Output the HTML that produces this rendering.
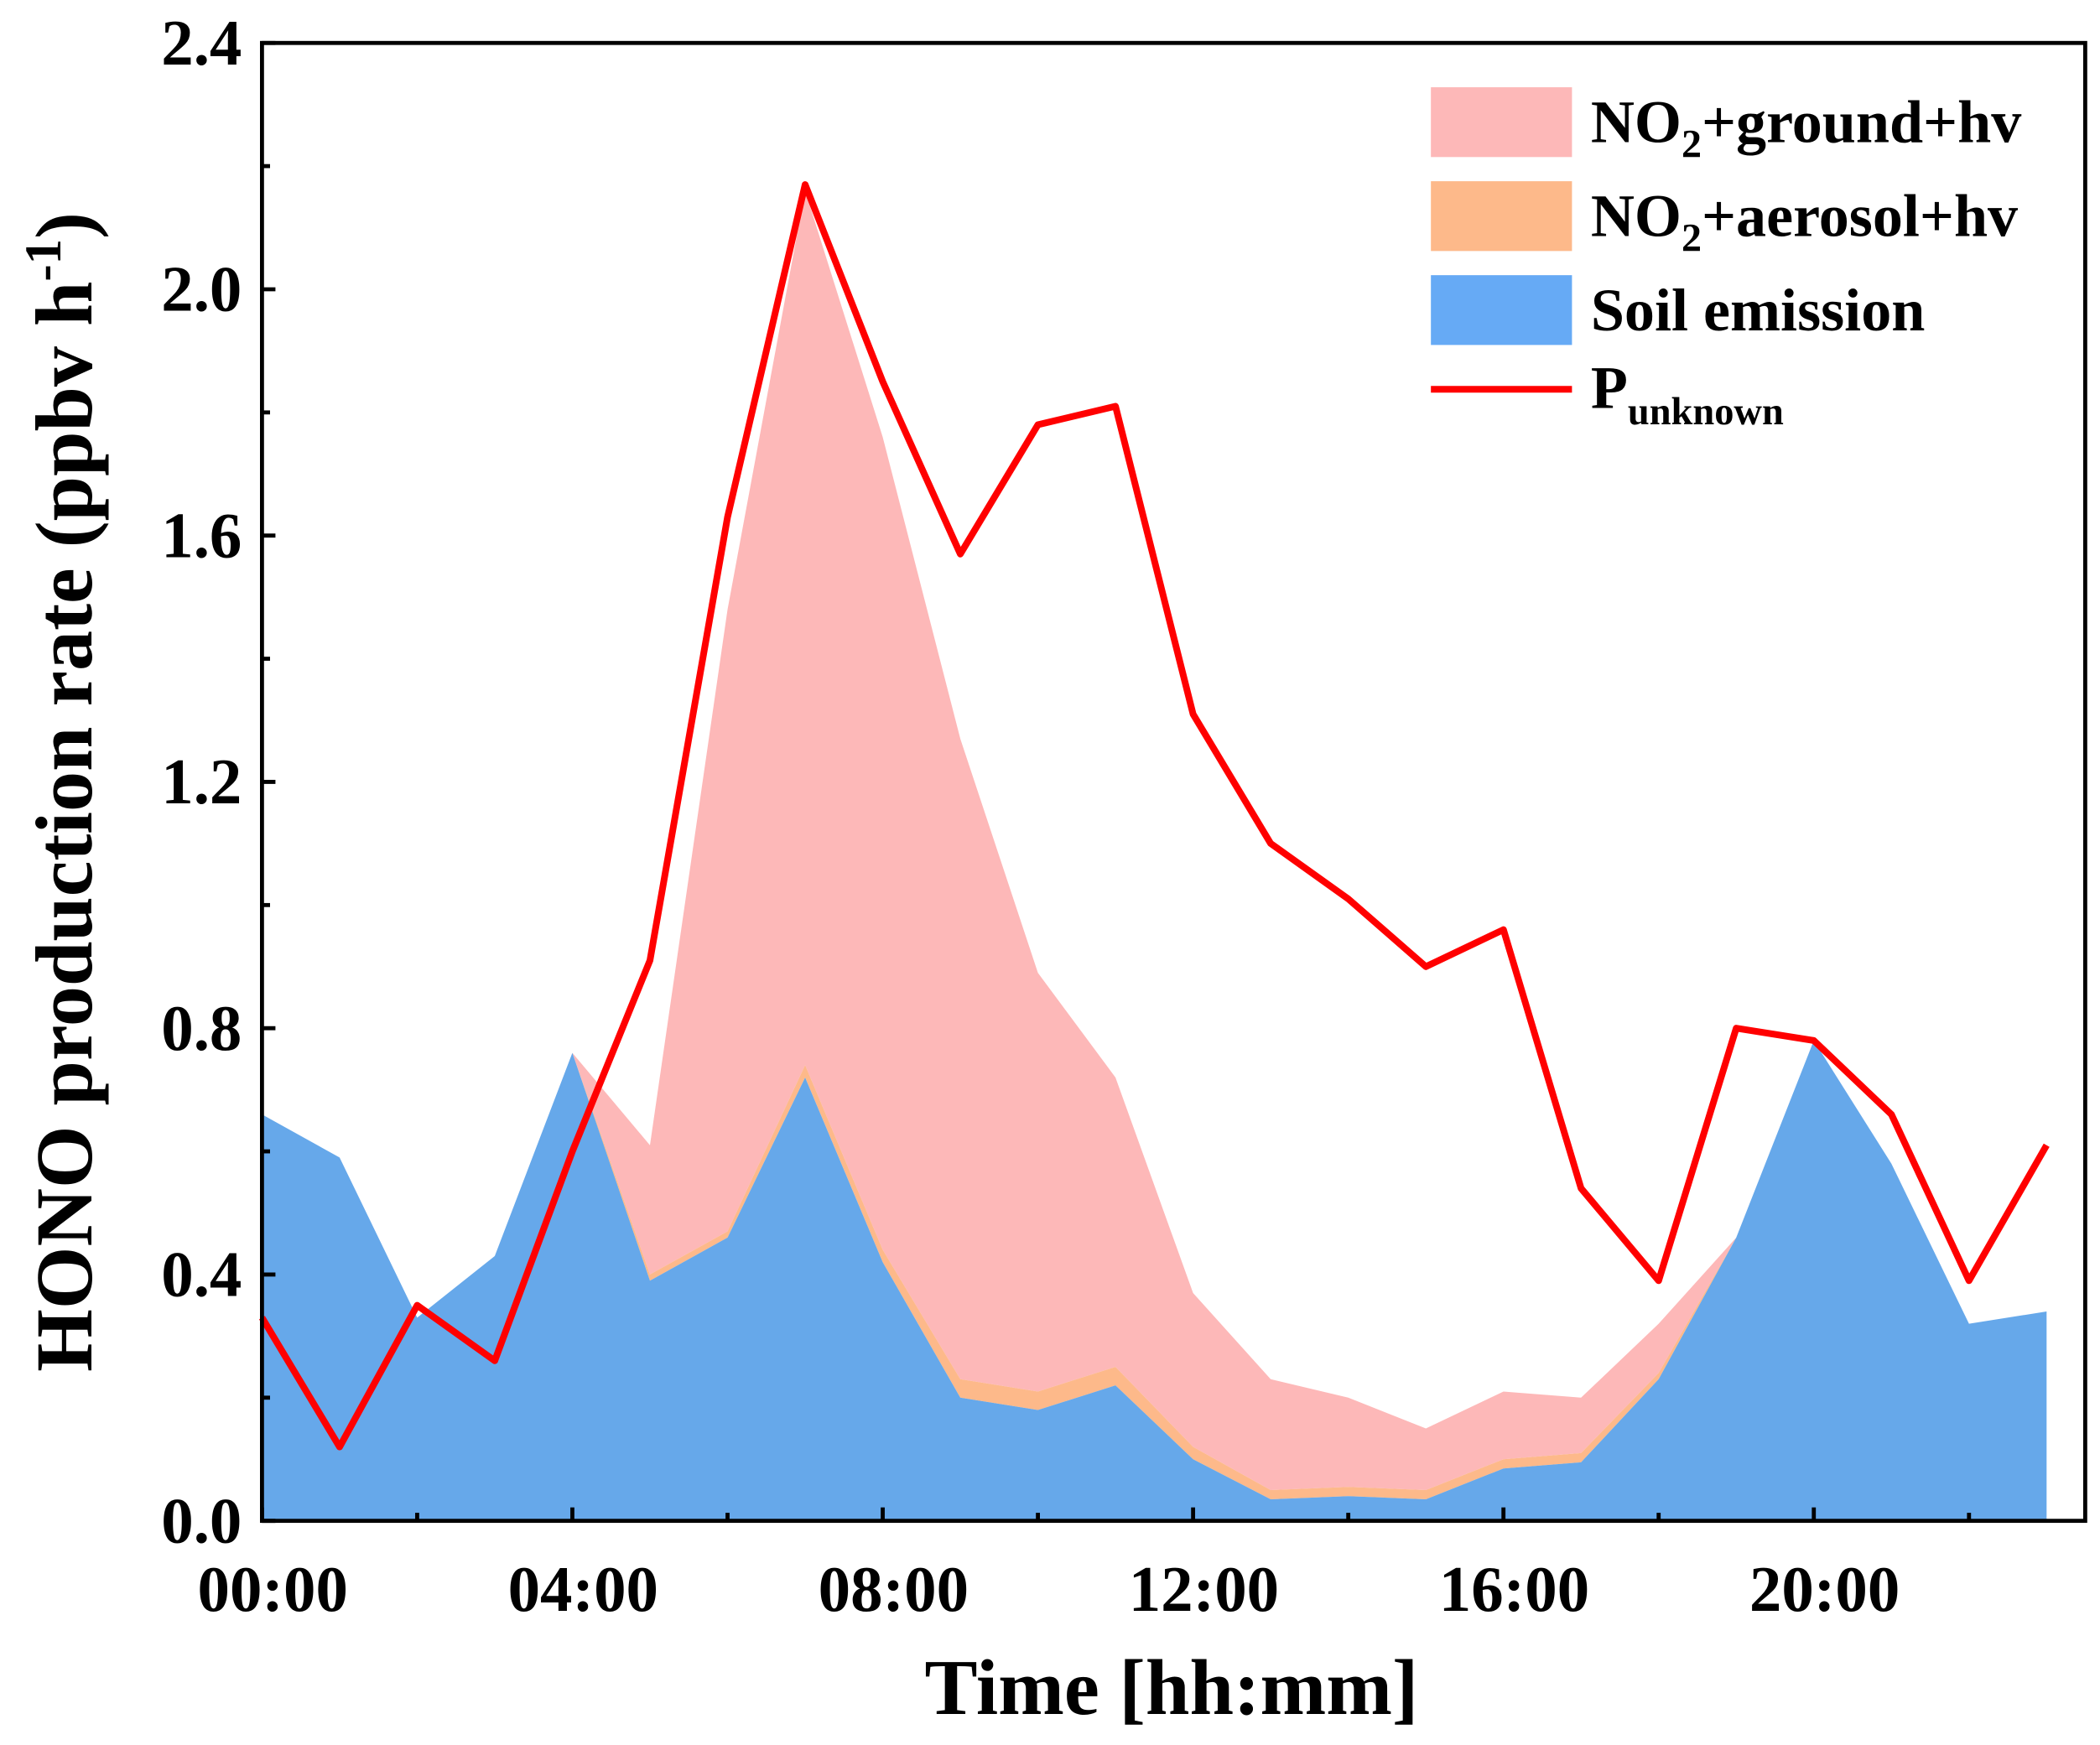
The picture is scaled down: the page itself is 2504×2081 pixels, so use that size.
<!DOCTYPE html>
<html><head><meta charset="utf-8"><style>
html,body{margin:0;padding:0;background:#fff;}
svg{display:block;}
text{font-family:"Liberation Serif",serif;font-weight:bold;fill:#000;}
</style></head><body>
<svg id="chart" width="2504" height="2081" viewBox="0 0 1563 1300" preserveAspectRatio="none" xmlns="http://www.w3.org/2000/svg">
<g id="areas"></g>
<g id="line"></g>
<rect x="195" y="32" width="1357" height="1101" fill="none" stroke="#000" stroke-width="3"/>
<g id="ticks"></g>
<text x="872" y="1277" font-size="59" text-anchor="middle">Time [hh:mm]</text>
<text transform="translate(68,590) rotate(-90)" font-size="60" text-anchor="middle">HONO production rate (ppbv h<tspan dy="-23" font-size="38">-1</tspan><tspan dy="23">)</tspan></text>
<g>
<rect x="1065" y="65" width="105" height="52" fill="#fdb8b8"/>
<text x="1184" y="106" font-size="45">NO<tspan dy="11" font-size="30">2</tspan><tspan dy="-11">+ground+hv</tspan></text>
<rect x="1065" y="135" width="105" height="52" fill="#fdb98a"/>
<text x="1184" y="176" font-size="45">NO<tspan dy="11" font-size="30">2</tspan><tspan dy="-11">+aerosol+hv</tspan></text>
<rect x="1065" y="205" width="105" height="52" fill="#66aaf5"/>
<text x="1184" y="246" font-size="45">Soil emission</text>
<line x1="1065" y1="290" x2="1170" y2="290" stroke="#ff0000" stroke-width="5"/>
<text x="1184" y="304" font-size="45">P<tspan dy="12" font-size="29">unknown</tspan></text>
</g>
</svg>
<script>
const hours=[0,1,2,3,4,5,6,7,8,9,10,11,12,13,14,15,16,17,18,19,20,21,22,23];
const soil=[0.66,0.59,0.33,0.43,0.76,0.39,0.46,0.72,0.42,0.20,0.18,0.22,0.10,0.035,0.04,0.035,0.085,0.095,0.23,0.46,0.78,0.58,0.32,0.34];
const aerosol=[0,0,0,0,0,0.01,0.01,0.02,0.02,0.03,0.03,0.03,0.02,0.015,0.015,0.015,0.015,0.015,0.01,0,0,0,0,0];
const ground=[0,0,0,0,0,0.21,1.01,1.42,1.32,1.04,0.68,0.47,0.25,0.18,0.145,0.10,0.11,0.09,0.08,0,0,0,0,0];
const punknown=[0.33,0.12,0.35,0.26,0.60,0.91,1.63,2.17,1.85,1.57,1.78,1.81,1.31,1.10,1.01,0.90,0.96,0.54,0.39,0.80,0.78,0.66,0.39,0.61];
const yTicks=[0,0.4,0.8,1.2,1.6,2.0,2.4];
const xTickHours=[0,4,8,12,16,20];
const xTickLabels=["00:00","04:00","08:00","12:00","16:00","20:00"];
const NS="http://www.w3.org/2000/svg";
const X=h=>195+h*57.75;
const Y=v=>1133-v*(1101/2.4);
function mk(t,a){const e=document.createElementNS(NS,t);for(const k in a)e.setAttribute(k,a[k]);return e;}
const areas=document.getElementById('areas');
const s1=soil, s2=soil.map((v,i)=>v+aerosol[i]), s3=s2.map((v,i)=>v+ground[i]);
function band(lo,hi,fill,name){
  let d=hours.map((h,i)=>(i?'L':'M')+X(h)+','+Y(hi[i])).join('');
  for(let i=hours.length-1;i>=0;i--)d+='L'+X(hours[i])+','+Y(lo?lo[i]:0);
  const p=mk('path',{d:d+'Z',fill:fill});
  
  
  areas.appendChild(p);
}
band(s2,s3,'#fdb8b8','area-no2-ground');
band(s1,s2,'#fdb98a','area-no2-aerosol');
band(null,s1,'#66a8ea','area-soil-emission');
const lp=mk('polyline',{points:hours.map((h,i)=>X(h)+','+Y(punknown[i])).join(' '),fill:'none',stroke:'#ff0000','stroke-width':5,'stroke-linejoin':'round'});


document.getElementById('line').appendChild(lp);
const tk=document.getElementById('ticks');
yTicks.forEach(v=>{
  tk.appendChild(mk('line',{x1:195,y1:Y(v),x2:205,y2:Y(v),stroke:'#000','stroke-width':3}));
  const t=mk('text',{x:180,y:Y(v)+16,'font-size':48,'text-anchor':'end'});
  t.textContent=v.toFixed(1);
  
  
  tk.appendChild(t);
  if(v<2.4)tk.appendChild(mk('line',{x1:195,y1:Y(v+0.2),x2:201,y2:Y(v+0.2),stroke:'#000','stroke-width':3}));
});
for(let h=0;h<=23;h+=2)tk.appendChild(mk('line',{x1:X(h),y1:1133,x2:X(h),y2:h%4?1127:1123,stroke:'#000','stroke-width':3}));
xTickHours.forEach((h,i)=>{
  const t=mk('text',{x:X(h)+8,y:1200,'font-size':48,'text-anchor':'middle'});
  t.textContent=xTickLabels[i];
  
  
  tk.appendChild(t);
});
</script>
</body></html>
